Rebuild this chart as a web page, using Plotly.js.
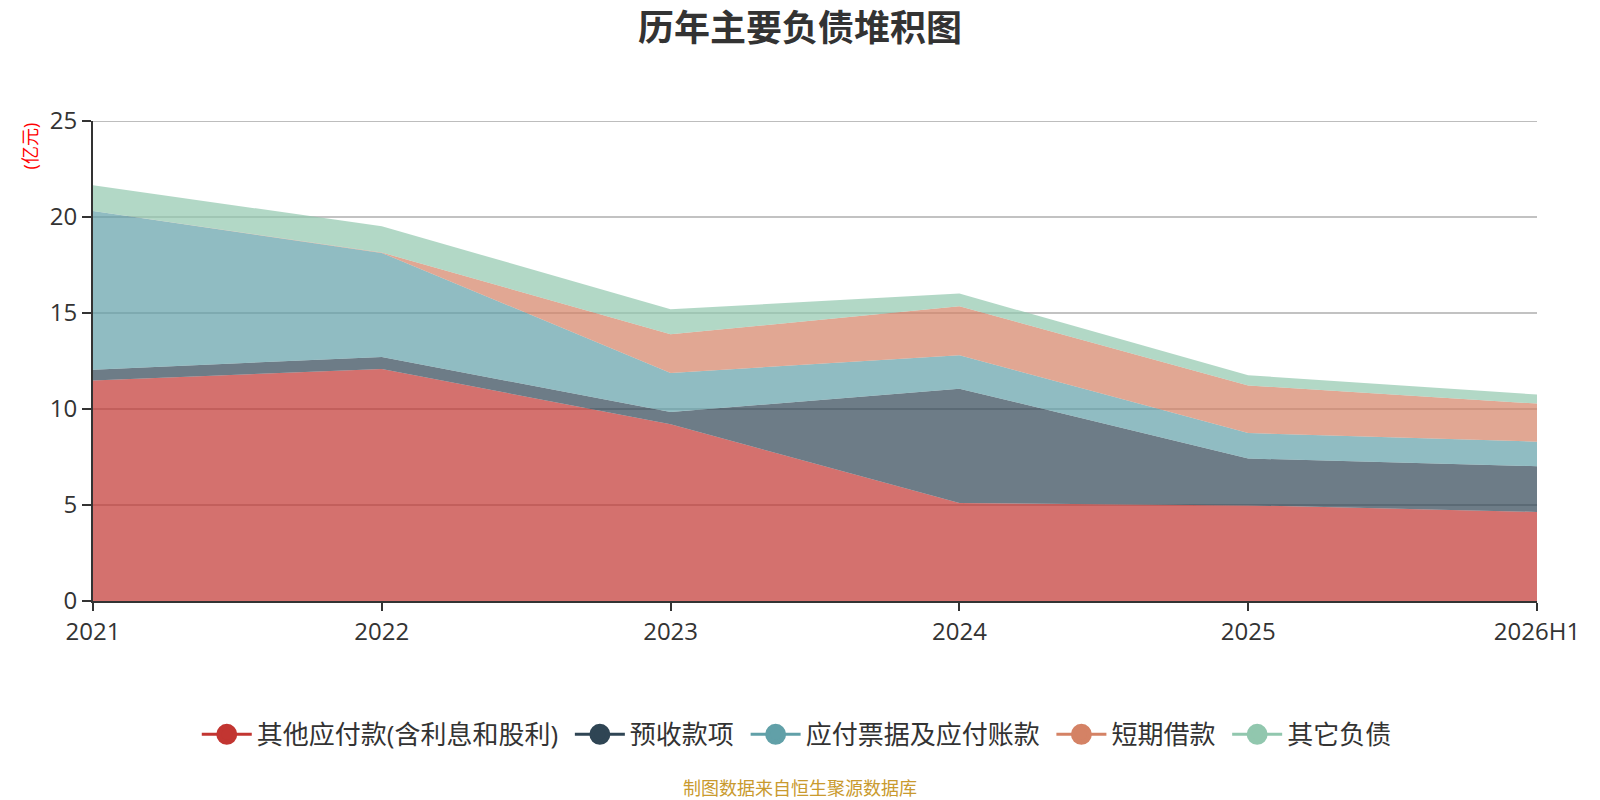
<!DOCTYPE html>
<html>
<head>
<meta charset="utf-8">
<script src="https://cdn.plot.ly/plotly-3.0.1.min.js"></script>
<style>
  html, body { margin: 0; padding: 0; background: #fff; }
  #chart { width: 1600px; height: 800px; }
</style>
</head>
<body>
<div id="chart"></div>
<script>
// years on the x axis
var years = ['2021', '2022', '2023', '2024', '2025', '2026H1']

// values in 亿元, one array per series (stacked in this order)
var otherPayables = [11.49, 12.08, 9.20, 5.10, 4.98, 4.64]
var advanceReceipts = [0.56, 0.63, 0.64, 5.96, 2.44, 2.38]
var notesAccountsPayable = [8.26, 5.42, 2.04, 1.74, 1.33, 1.28]
var shortTermLoans = [0.00, 0.02, 2.01, 2.55, 2.48, 1.98]
var otherLiabilities = [1.34, 1.37, 1.30, 0.66, 0.53, 0.47]

var seriesNames = ['其他应付款(含利息和股利)', '预收款项', '应付票据及应付账款', '短期借款', '其它负债']
var seriesValues = [otherPayables, advanceReceipts, notesAccountsPayable, shortTermLoans, otherLiabilities]
var lineColors = ['#c23531', '#2f4554', '#61a0a8', '#d48265', '#91c7ae']
var fillColors = [
  'rgba(194,53,49,0.7)',
  'rgba(47,69,84,0.7)',
  'rgba(97,160,168,0.7)',
  'rgba(212,130,101,0.7)',
  'rgba(145,199,174,0.7)'
]

var yMax = 25
var font = 'Open Sans, "Noto Sans CJK SC", sans-serif'
var traces = []

// the stacked areas
seriesValues.forEach(function (vals, i) {
  traces.push({
    x: years,
    y: vals,
    name: seriesNames[i],
    type: 'scatter',
    mode: 'lines',
    stackgroup: 'one',
    line: { width: 0, color: lineColors[i] },
    fillcolor: fillColors[i],
    showlegend: false,
    hoverinfo: 'x+y+name'
  })
})

// legend entries drawn as line + circle like the original
// (a little padding after the name to space the entries out)
seriesNames.forEach(function (name, i) {
  traces.push({
    x: [null],
    y: [null],
    name: name + '\u00a0',
    type: 'scatter',
    mode: 'lines+markers',
    line: { width: 3, color: lineColors[i] },
    marker: { size: 16, color: lineColors[i], line: { width: 5, color: lineColors[i] } },
    showlegend: true,
    hoverinfo: 'skip'
  })
})

var layout = {
  width: 1600,
  height: 800,
  paper_bgcolor: '#fff',
  plot_bgcolor: '#fff',
  margin: { l: 93, r: 63, t: 121, b: 199 },
  font: { family: font, color: '#333' },
  title: {
    text: '历年主要负债堆积图',
    font: { family: '"Noto Sans CJK SC", sans-serif', size: 36, color: '#333', weight: 'bold' },
    x: 0.5,
    xanchor: 'center',
    y: 0.964,
    yanchor: 'middle'
  },
  xaxis: {
    type: 'category',
    range: [0, 5],
    showgrid: false,
    showline: true,
    linecolor: '#333',
    linewidth: 2,
    ticks: 'outside',
    ticklen: 8,
    tickwidth: 2,
    tickcolor: '#333',
    tickfont: { size: 24, color: '#333' },
    zeroline: false,
    fixedrange: true
  },
  yaxis: {
    range: [0, yMax],
    tick0: 0,
    dtick: 5,
    showgrid: true,
    gridcolor: '#c2c2c2',
    gridwidth: 1.5,
    showline: true,
    linecolor: '#333',
    linewidth: 2,
    ticks: 'outside',
    ticklen: 9,
    tickwidth: 2,
    tickcolor: '#333',
    tickfont: { size: 24, color: '#333' },
    zeroline: false,
    fixedrange: true
  },
  // plotly drops the grid line that sits on the top edge, so draw it here
  shapes: [
    {
      type: 'line',
      xref: 'paper',
      yref: 'y',
      x0: 0,
      x1: 1,
      y0: yMax,
      y1: yMax,
      line: { color: '#bdbdbd', width: 2 },
      layer: 'below'
    }
  ],
  legend: {
    orientation: 'h',
    x: 0.4898,
    xanchor: 'center',
    y: -0.278,
    yanchor: 'middle',
    traceorder: 'normal',
    font: { size: 26, color: '#333' },
    itemwidth: 50
  },
  annotations: [
    {
      text: '(亿元)',
      xref: 'paper',
      yref: 'paper',
      x: -0.043,
      y: 0.949,
      xanchor: 'center',
      yanchor: 'middle',
      textangle: -90,
      showarrow: false,
      font: { size: 18, color: '#ff0000' }
    },
    {
      text: '制图数据来自恒生聚源数据库',
      xref: 'paper',
      yref: 'paper',
      x: 0.4898,
      y: -0.39,
      xanchor: 'center',
      yanchor: 'middle',
      showarrow: false,
      font: { size: 18, color: '#c99a2e' }
    }
  ]
}

Plotly.newPlot('chart', traces, layout, { displayModeBar: false, staticPlot: true })
</script>
</body>
</html>
